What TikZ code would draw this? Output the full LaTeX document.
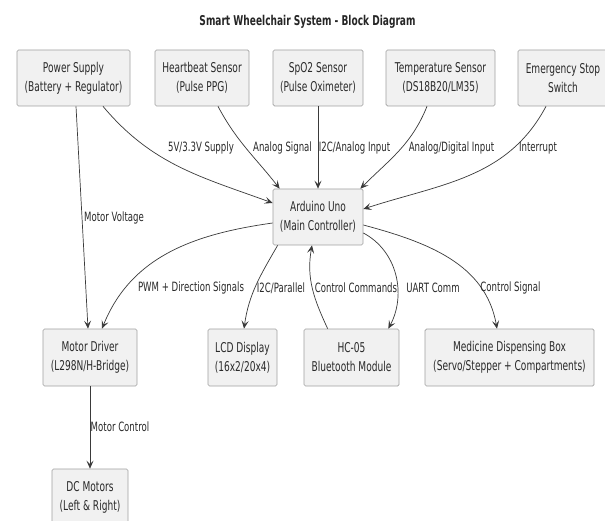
\documentclass[tikz,border=0pt]{standalone}
\usepackage{fontspec}
\setmainfont{DejaVu Sans}[FakeStretch=0.67]
\usetikzlibrary{arrows.meta}
\definecolor{boxfill}{HTML}{F1F1F1}
\definecolor{boxline}{HTML}{A0A0A0}
\definecolor{wirec}{HTML}{3A3A3A}
\definecolor{txt}{HTML}{2A2A2A}
\begin{document}
\begin{tikzpicture}[x=1pt,y=-1pt,
  blk/.style={draw=boxline, fill=boxfill, rounded corners=1.5pt, minimum height=56pt,
    inner sep=0pt, align=center, font=\fontsize{13.5}{19}\selectfont, text=txt, line width=0.7pt},
  lbl/.style={font=\fontsize{12.8}{15}\selectfont, text=txt, inner sep=0pt},
  wire/.style={draw=wirec, line width=0.7pt, -{Stealth[length=8pt,width=7pt,inset=3.5pt]}}]
\useasboundingbox[fill=white] (0,0) rectangle (605,521);
\node[font=\bfseries\fontsize{13.5}{16}\selectfont, text=black!85] (title) at (307.5,22) {Smart Wheelchair System - Block Diagram};
% top row
\node[blk, minimum width=113pt] (ps) at (73.5,78) {Power Supply\\(Battery + Regulator)};
\node[blk, minimum width=94pt] (hb) at (202,78) {Heartbeat Sensor\\(Pulse PPG)};
\node[blk, minimum width=90pt] (spo) at (318,78) {SpO2 Sensor\\(Pulse Oximeter)};
\node[blk, minimum width=109pt] (temp) at (440.5,78) {Temperature Sensor\\(DS18B20/LM35)};
\node[blk, minimum width=90pt] (estop) at (563,78) {Emergency Stop\\Switch};
% controller
\node[blk, minimum width=90pt] (ard) at (318,217) {Arduino Uno\\(Main Controller)};
% bottom row
\node[blk, minimum width=94pt, minimum height=57pt] (md) at (90,357.5) {Motor Driver\\(L298N/H-Bridge)};
\node[blk, minimum width=69pt, minimum height=57pt] (lcd) at (242.5,357.5) {LCD Display\\(16x2/20x4)};
\node[blk, minimum width=95pt, minimum height=57pt] (hc) at (351.5,357.5) {HC-05\\Bluetooth Module};
\node[blk, minimum width=169pt, minimum height=57pt] (med) at (509.5,357.5) {Medicine Dispensing Box\\(Servo/Stepper + Compartments)};
\node[blk, minimum width=76pt] (dc) at (90,497) {DC Motors\\(Left \& Right)};
% connectors
\draw[wire] ([xshift=29.5pt]ps.south) to[out=-50,in=160] ([yshift=14pt]ard.west);
\draw[wire] ([xshift=16pt]hb.south) to[out=-62,in=128] ([xshift=7pt]ard.north west);
\draw[wire] (spo.south) -- (ard.north);
\draw[wire] ([xshift=-13.5pt]temp.south) to[out=-112,in=45] ([xshift=-3pt]ard.north east);
\draw[wire] ([xshift=-17pt]estop.south) to[out=-118,in=18] ([yshift=8pt]ard.east);
\draw[wire] ([xshift=2.5pt]ps.south) -- ([xshift=-2pt]md.north);
\draw[wire] ([yshift=-6pt]ard.west) to[out=188,in=68] ([xshift=12pt]md.north);
\draw[wire] ([xshift=5pt]ard.south west) to[out=-120,in=82] ([xshift=1.5pt]lcd.north);
\draw[wire] ([xshift=24pt]hc.north west) to[out=115,in=-100] ([xshift=-6pt]ard.south);
\draw[wire] ([yshift=-16pt]ard.east) to[out=-28,in=62] ([xshift=-11pt]hc.north east);
\draw[wire] ([yshift=-8pt]ard.east) to[out=-15,in=100] ([xshift=-12.5pt]med.north);
\draw[wire] (md.south) -- (dc.north);
% labels
\node[lbl] (l1) at (201,148) {5V/3.3V Supply};
\node[lbl] (l2) at (282.5,148) {Analog Signal};
\node[lbl] (l3) at (354.5,148) {I2C/Analog Input};
\node[lbl] (l4) at (451.5,148) {Analog/Digital Input};
\node[lbl] (l5) at (538,148) {Interrupt};
\node[lbl] (l6) at (114,218) {Motor Voltage};
\node[lbl] (l7) at (191,288) {PWM + Direction Signals};
\node[lbl] (l8) at (281,288) {I2C/Parallel};
\node[lbl] (l9) at (356,288) {Control Commands};
\node[lbl] (l10) at (433,288) {UART Comm};
\node[lbl] (l11) at (510.5,288) {Control Signal};
\node[lbl] (l12) at (120,427) {Motor Control};
\end{tikzpicture}
\end{document}
